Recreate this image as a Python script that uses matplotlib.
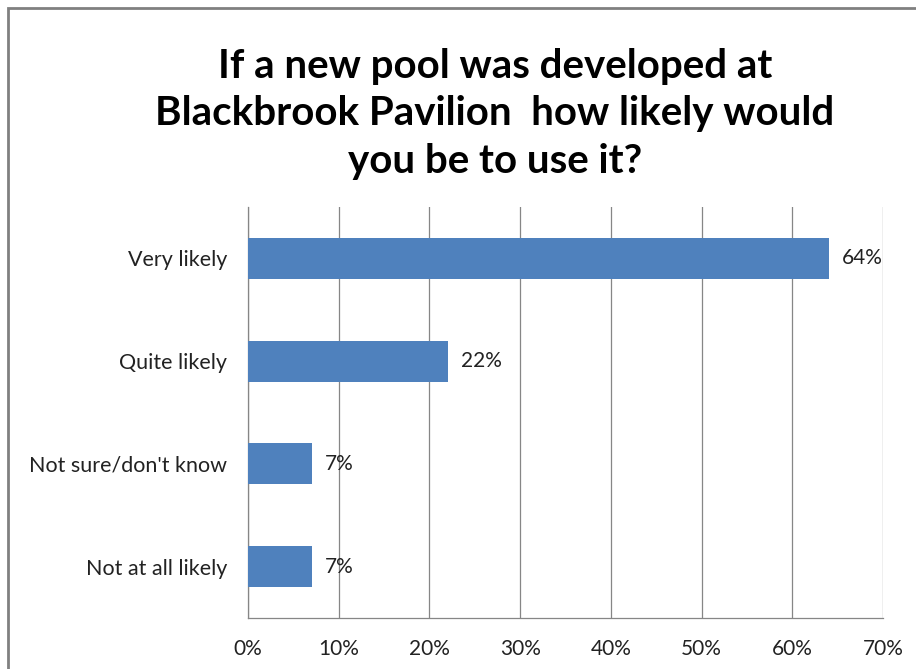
import matplotlib.pyplot as plt
from matplotlib.patches import Rectangle

# survey responses, top to bottom
categories = ["Very likely", "Quite likely", "Not sure/don't know", "Not at all likely"]
shares = [64, 22, 7, 7]
xticks = [0, 10, 20, 30, 40, 50, 60, 70]
xtick_labels = ["0%", "10%", "20%", "30%", "40%", "50%", "60%", "70%"]

plt.rcParams['font.family'] = ['Lato', 'DejaVu Sans']

fig = plt.figure(figsize=(9.16, 6.69), dpi=100)
ax = fig.add_axes([248 / 916, 1 - 618 / 669, (883 - 248) / 916, (618 - 207) / 669])

ypos = list(range(len(categories)))[::-1]
ax.barh(ypos, shares, height=0.4, color="#4f81bd", zorder=3)
for y, v in zip(ypos, shares):
    ax.text(v + 1.5, y, f"{v}%", va="center", ha="left", fontsize=15, color="#222222", zorder=4)

ax.set_xlim(0, 70)
ax.set_ylim(-0.5, len(categories) - 0.5)
ax.set_xticks(xticks)
ax.set_xticklabels(xtick_labels, fontsize=15, color="#222222")
ax.set_yticks(ypos)
ax.set_yticklabels(categories, fontsize=15.5, color="#222222")
ax.tick_params(axis="both", length=0)
ax.tick_params(axis="y", pad=15)
ax.tick_params(axis="x", pad=15)
ax.grid(axis="x", color="#868686", linewidth=0.9, zorder=0)

for side in ["top", "right"]:
    ax.spines[side].set_visible(False)
for side in ["left", "bottom"]:
    ax.spines[side].set_color("#868686")
    ax.spines[side].set_linewidth(0.9)

fig.text(495 / 916, 1 - 114 / 669,
         "If a new pool was developed at\nBlackbrook Pavilion  how likely would\nyou be to use it?",
         ha="center", va="center", fontsize=29, fontweight="bold", linespacing=1.34)

# outer frame of the chart area
fig.patches.append(Rectangle((8 / 916, -0.05), 1, 1 - 8 / 669 + 0.05, transform=fig.transFigure,
                             fill=False, edgecolor="#808080", linewidth=2))

fig.savefig("out.png", dpi=100)
